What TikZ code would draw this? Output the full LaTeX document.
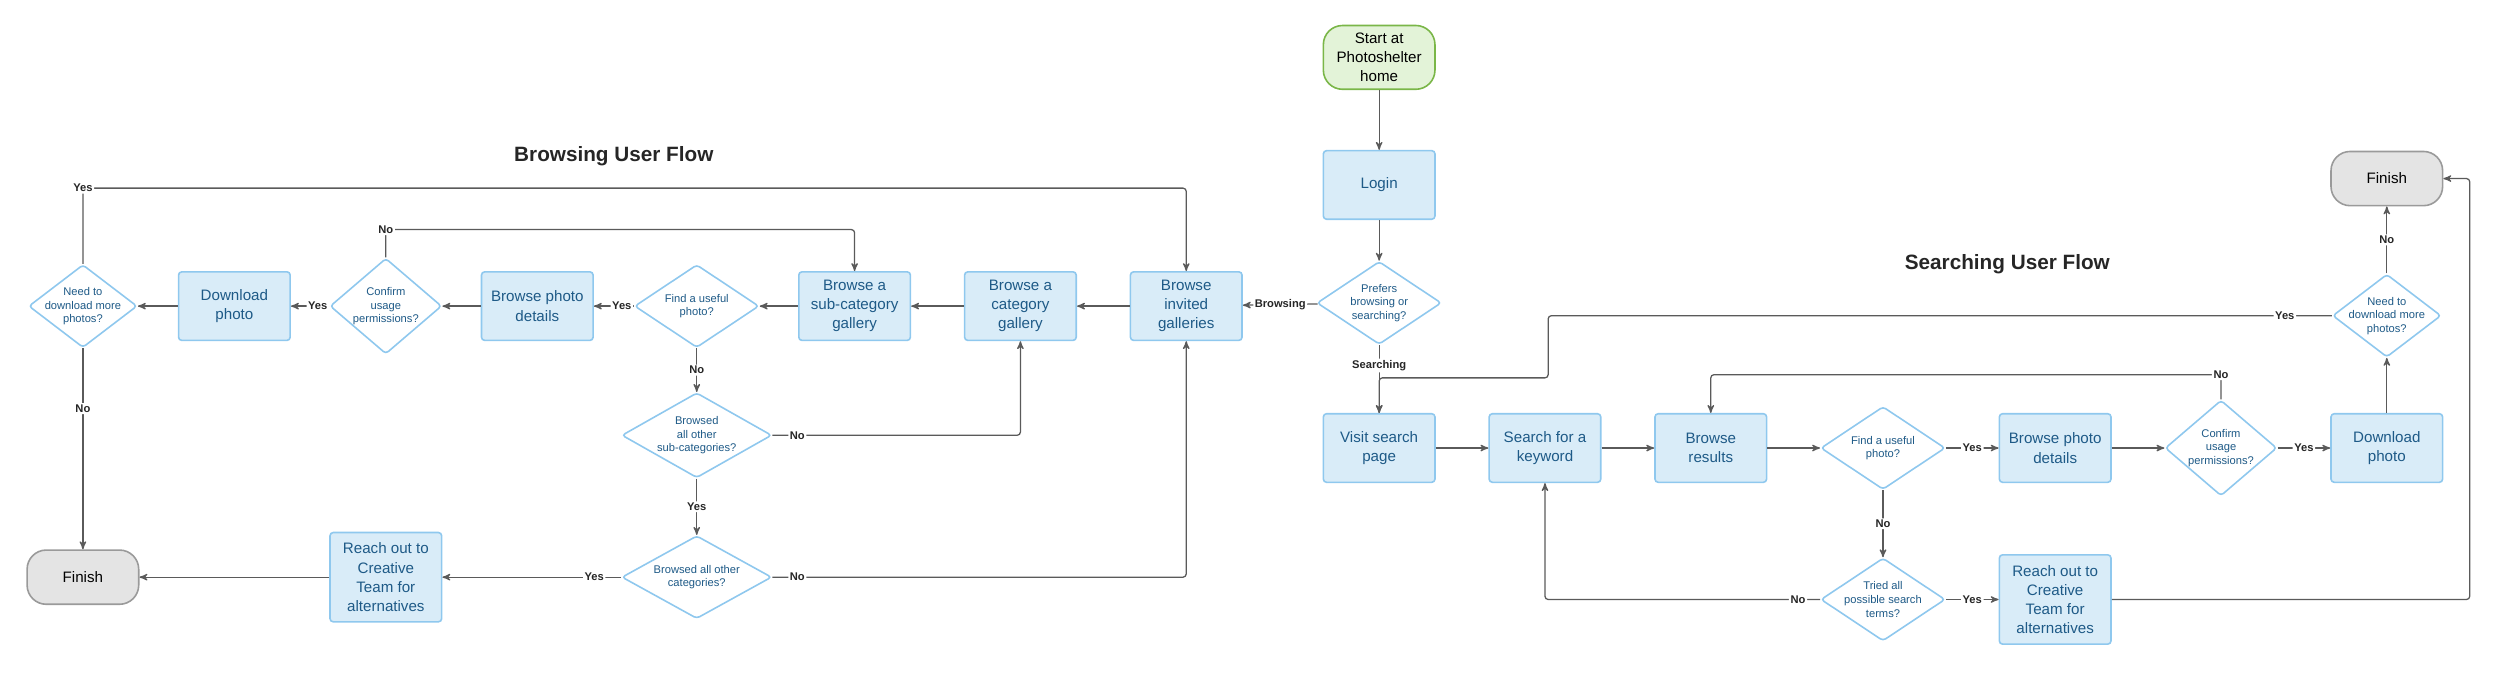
\documentclass[tikz,border=0pt]{standalone}
\usepackage{fontspec}
\setmainfont{Liberation Sans}
\usetikzlibrary{arrows,shapes.geometric,positioning}

\definecolor{boxfill}{HTML}{D9ECF8}
\definecolor{boxline}{HTML}{8FC8EE}
\definecolor{boxtext}{HTML}{1E5A87}
\definecolor{startfill}{HTML}{E3F3D8}
\definecolor{startline}{HTML}{7AB648}
\definecolor{endfill}{HTML}{E4E4E4}
\definecolor{endline}{HTML}{9A9A9A}
\definecolor{wire}{HTML}{5A5A5A}

\tikzstyle{proc}=[rectangle, draw=boxline, fill=boxfill, text=boxtext, line width=1pt,
    minimum width=70pt, minimum height=43pt, align=center, font=\fontsize{9.5}{12}\selectfont, inner sep=2pt]
\tikzstyle{ask}=[diamond, draw=boxline, fill=white, text=boxtext, line width=1pt,
    inner sep=-5pt, align=center, font=\fontsize{7}{8.5}\selectfont]
\tikzstyle{term}=[rectangle, rounded corners=12pt, line width=1pt, minimum width=70pt,
    align=center, font=\fontsize{9.5}{12}\selectfont]
\tikzstyle{lbl}=[fill=white, inner sep=1pt, font=\fontsize{7}{8}\selectfont\bfseries, text=black!85]

\begin{document}
\begin{tikzpicture}[x=1pt,y=-1pt,->,>=stealth',draw=wire,line width=0.8pt,rounded corners=2pt]
    \useasboundingbox (0,0) rectangle (1568,422);

    % shared start
    \node[term, draw=startline, fill=startfill, minimum height=40pt] (start) at (865,36) {Start at\\Photoshelter\\home};
    \node[proc] (login) at (865,116) {Login};
    \node[ask, minimum width=78pt, minimum height=52pt] (pref) at (865,190) {Prefers\\browsing or\\searching?};

    % browsing
    \node[font=\fontsize{13}{15}\selectfont\bfseries, text=black!85] (tb) at (385,98) {Browsing User Flow};
    \node[proc] (inv) at (744,192) {Browse\\invited\\galleries};
    \node[proc] (cat) at (640,192) {Browse a\\category\\gallery};
    \node[proc] (sub) at (536,192) {Browse a\\sub-category\\gallery};
    \node[ask, minimum width=78pt, minimum height=52pt] (findB) at (437,192) {Find a useful\\photo?};
    \node[proc] (detB) at (337,192) {Browse photo\\details};
    \node[ask, minimum width=70pt, minimum height=60pt] (confB) at (242,192) {Confirm\\usage\\permissions?};
    \node[proc] (dlB) at (147,192) {Download\\photo};
    \node[ask, minimum width=68pt, minimum height=52pt] (needB) at (52,192) {Need to\\download more\\photos?};
    \node[term, draw=endline, fill=endfill, minimum height=34pt] (finB) at (52,362) {Finish};
    \node[ask, minimum width=94pt, minimum height=52pt] (subs) at (437,273) {Browsed\\all other\\sub-categories?};
    \node[ask, minimum width=94pt, minimum height=52pt] (cats) at (437,362) {Browsed all other\\categories?};
    \node[proc, minimum height=56pt] (reachB) at (242,362) {Reach out to\\Creative\\Team for\\alternatives};

    % searching
    \node[font=\fontsize{13}{15}\selectfont\bfseries, text=black!85] (ts) at (1259,166) {Searching User Flow};
    \node[proc] (visit) at (865,281) {Visit search\\page};
    \node[proc] (key) at (969,281) {Search for a\\keyword};
    \node[proc] (res) at (1073,281) {Browse\\results};
    \node[ask, minimum width=78pt, minimum height=52pt] (findS) at (1181,281) {Find a useful\\photo?};
    \node[proc] (detS) at (1289,281) {Browse photo\\details};
    \node[ask, minimum width=70pt, minimum height=60pt] (confS) at (1393,281) {Confirm\\usage\\permissions?};
    \node[proc] (dlS) at (1497,281) {Download\\photo};
    \node[ask, minimum width=68pt, minimum height=52pt] (needS) at (1497,198) {Need to\\download more\\photos?};
    \node[term, draw=endline, fill=endfill, minimum height=34pt] (finS) at (1497,112) {Finish};
    \node[ask, minimum width=78pt, minimum height=52pt] (tried) at (1181,376) {Tried all\\possible search\\terms?};
    \node[proc, minimum height=56pt] (reachS) at (1289,376) {Reach out to\\Creative\\Team for\\alternatives};

    \coordinate (yesB) at (52,118);
    \coordinate (noB) at (242,144);
    \coordinate (subR) at (640,273);
    \coordinate (catR) at (744,362);
    \coordinate (yesS1) at (971,198);
    \coordinate (yesS2) at (971,237);
    \coordinate (yesS3) at (865,237);
    \coordinate (noS) at (1393,235);
    \coordinate (noT) at (969,376);
    \coordinate (reachR) at (1549,376);

    \draw (start) -- (login);
    \draw (login) -- (pref);
    \draw (pref) -- node[lbl] {Browsing} (inv);
    \draw (pref) -- node[lbl, pos=0.3] {Searching} (visit);

    \draw (inv) -- (cat);
    \draw (cat) -- (sub);
    \draw (sub) -- (findB);
    \draw (findB) -- node[lbl, pos=0.3] {Yes} (detB);
    \draw (findB) -- node[lbl] {No} (subs);
    \draw (detB) -- (confB);
    \draw (confB) -- node[lbl, pos=0.3] {Yes} (dlB);
    \draw (confB.north) -- (noB) node[lbl] {No} -| (sub.north);
    \draw (dlB) -- (needB);
    \draw (needB.north) -- (yesB) node[lbl] {Yes} -| (inv.north);
    \draw (needB) -- node[lbl, pos=0.3] {No} (finB);
    \draw (subs.east) -- node[lbl, pos=0.1] {No} (subR) -- (cat.south);
    \draw (subs) -- node[lbl] {Yes} (cats);
    \draw (cats) -- node[lbl, pos=0.15] {Yes} (reachB);
    \draw (cats.east) -- node[lbl, pos=0.06] {No} (catR) -- (inv.south);
    \draw (reachB) -- (finB);

    \draw (visit) -- (key);
    \draw (key) -- (res);
    \draw (res) -- (findS);
    \draw (findS) -- node[lbl] {Yes} (detS);
    \draw (detS) -- (confS);
    \draw (confS) -- node[lbl] {Yes} (dlS);
    \draw (dlS) -- (needS);
    \draw (needS) -- node[lbl] {No} (finS);
    \draw (needS.west) -- node[lbl, pos=0.06] {Yes} (yesS1) -- (yesS2) -- (yesS3) -- (visit.north);
    \draw (confS.north) -- (noS) node[lbl] {No} -| (res.north);
    \draw (findS) -- node[lbl] {No} (tried);
    \draw (tried) -- node[lbl] {Yes} (reachS);
    \draw (tried.west) -- node[lbl, pos=0.08] {No} (noT) -- (key.south);
    \draw (reachS.east) -- (reachR) |- (finS.east);
\end{tikzpicture}
\end{document}
